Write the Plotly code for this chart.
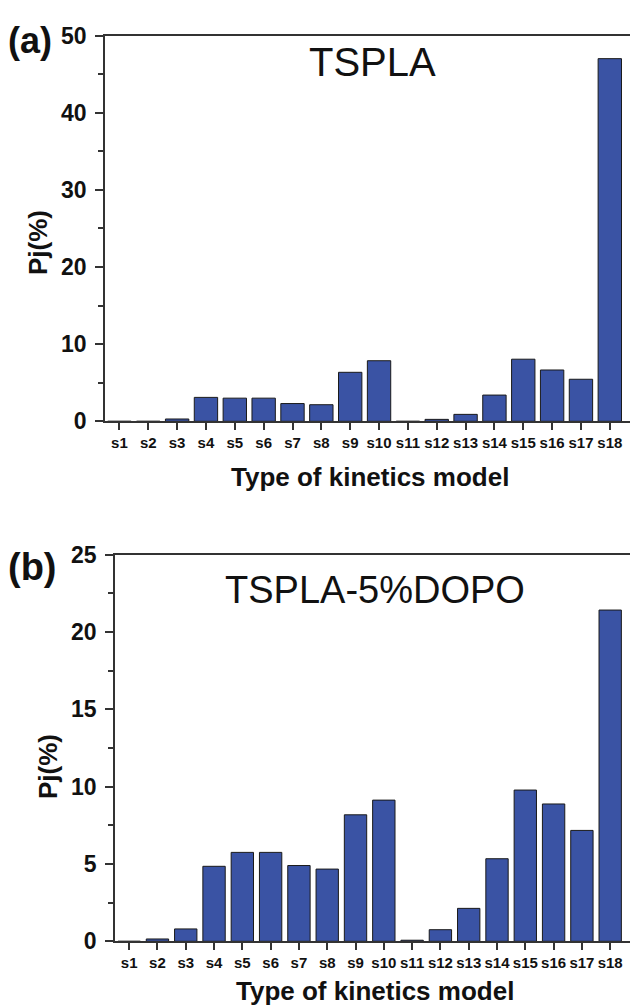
import plotly.graph_objects as go

categories = [f"s{i}" for i in range(1, 19)]
tspla = [0, 0, 0.3, 3.1, 3.0, 3.0, 2.3, 2.15, 6.35, 7.85, 0, 0.25, 0.9, 3.4, 8.05, 6.65, 5.45, 47.0]
tspla_dopo = [0, 0.15, 0.8, 4.85, 5.75, 5.75, 4.9, 4.67, 8.18, 9.13, 0.07, 0.75, 2.13, 5.34, 9.78, 8.88, 7.17, 21.42]
yticks_a = [0, 10, 20, 30, 40, 50]
yticks_b = [0, 5, 10, 15, 20, 25]

W, H = 630, 1008
BAR = "#3A53A4"
AX = "#333333"
FONT = "Liberation Sans, Arial, sans-serif"

def px(x):
    return x / W

def py(y):
    return 1 - y / H

fig = go.Figure()
fig.add_trace(go.Bar(x=categories, y=tspla, width=0.81, marker=dict(color=BAR, line=dict(color="#1a1a1a", width=1)),
                     xaxis="x", yaxis="y", showlegend=False))
fig.add_trace(go.Bar(x=categories, y=tspla_dopo, width=0.79, marker=dict(color=BAR, line=dict(color="#1a1a1a", width=1)),
                     xaxis="x2", yaxis="y2", showlegend=False))

xcommon = dict(type="category", showline=True, linecolor=AX, linewidth=1.5, mirror=True, automargin=False,
               ticks="outside", ticklen=7, tickwidth=1.5, tickcolor=AX, showgrid=False, zeroline=False,
               tickfont=dict(family=FONT, size=15, color="#111", weight="bold"), range=[-0.5, 17.7])
ycommon = dict(showline=True, linecolor=AX, linewidth=1.5, mirror=False, ticks="outside", ticklen=8, automargin=False,
               tickwidth=1.5, tickcolor=AX, showgrid=False, zeroline=False, ticklabelstandoff=4,
               tickfont=dict(family=FONT, size=23, color="#111", weight="bold"))

fig.update_layout(
    width=W, height=H, margin=dict(l=0, r=0, t=0, b=0, autoexpand=False),
    paper_bgcolor="white", plot_bgcolor="white", bargap=0.2,
    xaxis=dict(xcommon, domain=[px(105), 1], anchor="y"),
    yaxis=dict(ycommon, domain=[py(421.3), py(35.5)], anchor="x", range=[0, 50], tickvals=yticks_a,
               minor=dict(dtick=5, ticks="outside", ticklen=5, tickcolor=AX, tickwidth=1.5)),
    xaxis2=dict(xcommon, domain=[px(115), 1], anchor="y2"),
    yaxis2=dict(ycommon, domain=[py(941.3), py(554.7)], anchor="x2", range=[0, 25], tickvals=yticks_b,
                minor=dict(dtick=2.5, ticks="outside", ticklen=5, tickcolor=AX, tickwidth=1.5)),
)

def ann(text, x, y, size, bold=True, angle=0, xanchor="center"):
    fig.add_annotation(text=text, x=px(x), y=py(y), xref="paper", yref="paper", showarrow=False,
                       xanchor=xanchor, yanchor="middle", textangle=angle,
                       font=dict(family=FONT, size=size, color="#111", weight="bold" if bold else "normal"))

ann("(a)", 6, 41, 36, xanchor="left")
ann("(b)", 6, 567, 38, xanchor="left")
ann("TSPLA", 372, 62, 40, bold=False)
ann("TSPLA-5%DOPO", 375, 590, 38, bold=False)
ann("Type of kinetics model", 370, 477, 26)
ann("Type of kinetics model", 375, 991, 26)
ann("Pj(%)", 38, 243, 26, angle=-90)
ann("Pj(%)", 48, 767, 26, angle=-90)

fig.write_html("out.html", config={"displayModeBar": False},
               post_script="document.body.style.margin='0';document.body.style.overflow='hidden';")
